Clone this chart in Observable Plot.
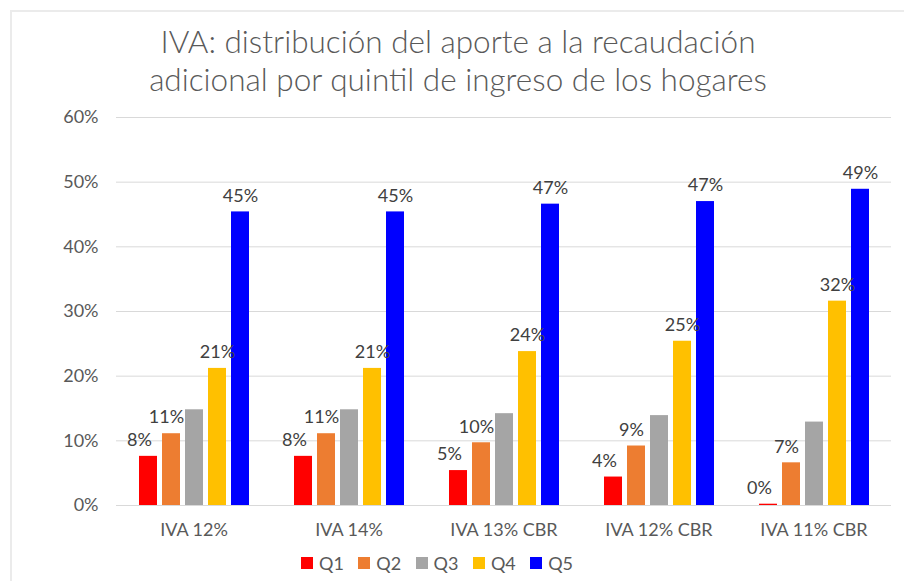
<!DOCTYPE html>
<html>
<head>
<meta charset="utf-8">
<script src="https://cdn.jsdelivr.net/npm/d3@7"></script>
<script src="https://cdn.jsdelivr.net/npm/@observablehq/plot@0.6"></script>
<style>
  body { margin: 0; background: #fff; width: 904px; height: 581px; overflow: hidden; position: relative; font-family: Lato, "Open Sans", sans-serif; }
  #frame { position: absolute; left: 10px; top: 10px; width: 900px; height: 580px; border-left: 2px solid #EBEBEB; border-top: 2px solid #EBEBEB; }
  #title { position: absolute; left: 0; width: 916px; top: 22px; text-align: center; font-size: 31.5px; line-height: 38px; color: #595959; font-weight: 300; }
  #chart { position: absolute; left: 0; top: 100px; }
  #legend { position: absolute; left: 301px; top: 552px; display: flex; font-size: 18px; color: #595959; line-height: 22px; }
  .item { width: 57.3px; display: flex; align-items: center; white-space: nowrap; }
  .sw { width: 12px; height: 12px; margin-right: 6px; flex: none; }
</style>
</head>
<body>
<div id="frame"></div>
<div id="title">IVA: distribución del aporte a la recaudación<br>adicional por quintil de ingreso de los hogares</div>
<div id="chart"></div>
<div id="legend"></div>
<script>
const categories = ["IVA 12%", "IVA 14%", "IVA 13% CBR", "IVA 12% CBR", "IVA 11% CBR"];
const quintiles = ["Q1", "Q2", "Q3", "Q4", "Q5"];
const q1 = [7.6, 7.6, 5.4, 4.4, 0.2];
const q2 = [11.1, 11.1, 9.7, 9.2, 6.6];
const q3 = [14.8, 14.8, 14.2, 13.9, 12.9];
const q4 = [21.2, 21.2, 23.8, 25.4, 31.6];
const q5 = [45.4, 45.4, 46.6, 47.0, 48.9];
const colors = ["#FF0000", "#ED7D31", "#A5A5A5", "#FFC000", "#0000FF"];
const labeledSeries = ["Q1", "Q2", "Q4", "Q5"];
const yTicks = [0, 10, 20, 30, 40, 50, 60];

const series = [q1, q2, q3, q4, q5];
const data = [];
categories.forEach((c, i) => {
  quintiles.forEach((q, j) => {
    data.push({cat: c, q: q, v: series[j][i]});
  });
});

const labelMark = (qs, dx) => Plot.text(
  data.filter(d => qs.includes(d.q) && labeledSeries.includes(d.q)),
  {fx: "cat", x: "q", y: "v", text: d => Math.round(d.v) + "%", dy: -16, dx: dx,
   fill: "#404040", fontSize: 18, lineAnchor: "middle"}
);

const chart = Plot.plot({
  width: 904,
  height: 445,
  marginLeft: 115,
  marginRight: 11.5,
  marginTop: 17,
  marginBottom: 40,
  style: {fontFamily: "Lato, 'Open Sans', sans-serif", fontSize: "18px", color: "#595959", background: "transparent"},
  fx: {domain: categories, padding: 0, label: null, tickSize: 0, tickPadding: 18, axis: "bottom"},
  x: {domain: quintiles, paddingInner: 0.23, paddingOuter: 0.854, axis: null},
  y: {domain: [0, 60], ticks: yTicks, tickFormat: d => d + "%", tickSize: 0, tickPadding: 18, label: null},
  color: {domain: quintiles, range: colors},
  marks: [
    Plot.ruleY(yTicks, {stroke: "#D9D9D9", strokeWidth: 1}),
    Plot.barY(data, {fx: "cat", x: "q", y: "v", fill: "q"}),
    labelMark(["Q1"], -9),
    labelMark(["Q2"], -5),
    labelMark(["Q4", "Q5"], 0)
  ]
});
document.getElementById("chart").appendChild(chart);

const legend = document.getElementById("legend");
quintiles.forEach((q, i) => {
  const it = document.createElement("div");
  it.className = "item";
  const sw = document.createElement("span");
  sw.className = "sw";
  sw.style.background = colors[i];
  it.appendChild(sw);
  it.appendChild(document.createTextNode(q));
  legend.appendChild(it);
});
</script>
</body>
</html>
